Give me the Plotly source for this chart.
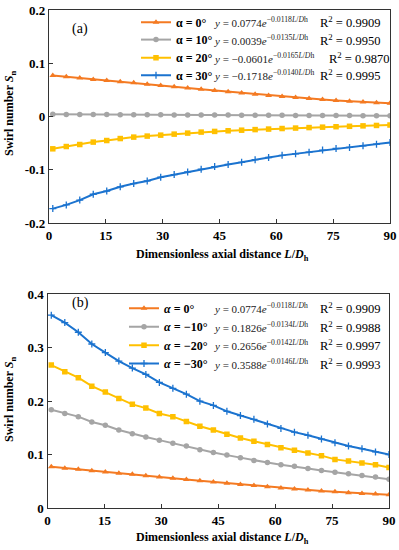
import plotly.graph_objects as go

# ---------------- data ----------------
x_ld = [1, 4.56, 8.12, 11.68, 15.24, 18.8, 22.36, 25.92, 29.48, 33.04, 36.6, 40.16, 43.72,
        47.28, 50.84, 54.4, 57.96, 61.52, 65.08, 68.64, 72.2, 75.76, 79.32, 82.88, 86.44, 90]

a0 = [0.0770, 0.0745, 0.0724, 0.0697, 0.0676, 0.0652, 0.0632, 0.0604, 0.0582, 0.0558, 0.0533, 0.0510, 0.0488,
      0.0463, 0.0442, 0.0420, 0.0396, 0.0375, 0.0355, 0.0336, 0.0318, 0.0302, 0.0287, 0.0273, 0.0260, 0.0248]
a10 = [0.0040, 0.0039, 0.0038, 0.0037, 0.0036, 0.0034, 0.0033, 0.0032, 0.0031, 0.0030, 0.0029, 0.0028, 0.0027,
       0.0026, 0.0025, 0.0024, 0.0023, 0.0022, 0.0021, 0.0020, 0.0019, 0.0018, 0.0017, 0.0016, 0.0015, 0.0014]
a20 = [-0.0607, -0.0564, -0.0526, -0.0481, -0.0451, -0.0414, -0.0387, -0.0368, -0.0350, -0.0331, -0.0312, -0.0293, -0.0280,
       -0.0268, -0.0257, -0.0246, -0.0236, -0.0226, -0.0217, -0.0208, -0.0200, -0.0192, -0.0184, -0.0176, -0.0168, -0.0160]
a30 = [-0.173, -0.166, -0.157, -0.146, -0.140, -0.132, -0.126, -0.121, -0.114, -0.109, -0.104, -0.099, -0.094,
       -0.090, -0.086, -0.081, -0.077, -0.073, -0.070, -0.067, -0.063, -0.060, -0.058, -0.055, -0.052, -0.049]

am10 = [0.184, 0.177, 0.171, 0.161, 0.155, 0.146, 0.139, 0.133, 0.127, 0.121, 0.116, 0.109, 0.104,
        0.099, 0.094, 0.089, 0.085, 0.081, 0.078, 0.074, 0.070, 0.067, 0.064, 0.061, 0.058, 0.054]
am20 = [0.2675, 0.255, 0.244, 0.228, 0.217, 0.205, 0.194, 0.187, 0.177, 0.171, 0.162, 0.153, 0.146,
        0.138, 0.131, 0.125, 0.119, 0.113, 0.108, 0.103, 0.098, 0.091, 0.088, 0.084, 0.081, 0.076]
am30 = [0.361, 0.347, 0.329, 0.307, 0.291, 0.275, 0.262, 0.250, 0.235, 0.224, 0.213, 0.200, 0.192,
        0.181, 0.173, 0.166, 0.157, 0.149, 0.142, 0.136, 0.129, 0.122, 0.116, 0.111, 0.105, 0.100]

names_a = ["α = 0°", "α = 10°", "α = 20°", "α = 30°"]
names_b = ["<i>α</i> = 0°", "<i>α = −</i>10°", "<i>α = −</i>20°", "<i>α = −</i>30°"]
eq_a = ["0.0774", "0.0039", "−0.0601", "−0.1718"]
k_a = ["0.0118", "0.0135", "0.0165", "0.0140"]
r2_a = ["0.9909", "0.9950", "0.9870", "0.9995"]
eq_b = ["0.0774", "0.1826", "0.2656", "0.3588"]
k_b = ["0.0118", "0.0134", "0.0142", "0.0146"]
r2_b = ["0.9909", "0.9988", "0.9997", "0.9993"]

x_ticks = [0, 15, 30, 45, 60, 75, 90]
ya_ticks = [-0.2, -0.1, 0, 0.1, 0.2]
ya_text = ["-0.2", "-0.1", "0", "0.1", "0.2"]
yb_ticks = [0, 0.1, 0.2, 0.3, 0.4]
yb_text = ["0", "0.1", "0.2", "0.3", "0.4"]

# ---------------- styling ----------------
W, H = 399, 550
SERIF = "Liberation Serif"
colors = ["#F47A22", "#A5A5A5", "#FFC000", "#1B73CF"]
symbols = ["triangle-up", "circle", "square", "cross-thin"]
msize = [6, 5.5, 5.5, 5]

def px_x(p):
    return p / W

def px_y(p):
    return 1 - p / H

fig = go.Figure()

series_a = [a0, a10, a20, a30]
series_b = [a0, am10, am20, am30]

leg_y_a = [22.3, 39.6, 57.7, 75.3]
leg_y_b = [308.3, 326.8, 345.3, 363.5]

def marker(i):
    mk = dict(symbol=symbols[i], size=msize[i], color=colors[i])
    if symbols[i] == "cross-thin":
        mk["line"] = dict(color=colors[i], width=1.3)
    return mk

for i, ys in enumerate(series_a):
    fig.add_trace(go.Scatter(x=x_ld, y=ys, xaxis="x", yaxis="y", mode="lines+markers",
                             name=names_a[i], line=dict(color=colors[i], width=2), marker=marker(i),
                             legend="legend" if i == 0 else f"legend{i+1}"))
for i, ys in enumerate(series_b):
    fig.add_trace(go.Scatter(x=x_ld, y=ys, xaxis="x2", yaxis="y2", mode="lines+markers",
                             name=names_b[i], line=dict(color=colors[i], width=2), marker=marker(i),
                             legend=f"legend{i+5}"))

axis_common = dict(showline=True, linecolor="#333333", linewidth=1.3, mirror=True,
                   ticks="inside", ticklen=4, tickcolor="#333333", showgrid=False, zeroline=False,
                   automargin=False,
                   tickfont=dict(family=SERIF, size=13, color="black", weight="bold"))

layout = dict(
    width=W, height=H, margin=dict(l=0, r=0, t=0, b=0, autoexpand=False),
    paper_bgcolor="white", plot_bgcolor="white", showlegend=True,
    xaxis=dict(domain=[px_x(49), px_x(390)], range=[0, 90], tickvals=x_ticks, anchor="y", **axis_common),
    yaxis=dict(domain=[px_y(223), px_y(10)], range=[-0.2, 0.2], tickvals=ya_ticks, ticktext=ya_text,
               anchor="x", **axis_common),
    xaxis2=dict(domain=[px_x(47.5), px_x(389)], range=[0, 90], tickvals=x_ticks, anchor="y2", **axis_common),
    yaxis2=dict(domain=[px_y(508), px_y(294.3)], range=[0, 0.4], tickvals=yb_ticks, ticktext=yb_text,
                anchor="x2", **axis_common),
)

for i in range(8):
    key = "legend" if i == 0 else f"legend{i+1}"
    yy = leg_y_a[i] if i < 4 else leg_y_b[i - 4]
    lx = 136 if i < 4 else 124
    layout[key] = dict(x=px_x(lx), y=px_y(yy), xanchor="left", yanchor="middle",
                       bgcolor="rgba(0,0,0,0)", borderwidth=0,
                       font=dict(family=SERIF, size=12, color="black", weight="bold"))
fig.update_layout(**layout)

ann = []
def eqn(c, k):
    return (f"<i>y</i> = {c}<i>e</i><sup>−{k}<i>L</i>/<i>D</i>h</sup>")

def txt(x, y, text, size, xanchor="center", weight="normal", color="black", angle=0):
    return dict(x=px_x(x), y=px_y(y), xref="paper", yref="paper", xanchor=xanchor, yanchor="middle",
                showarrow=False, text=text, textangle=angle,
                font=dict(family=SERIF, size=size, color=color, weight=weight))

r2x_a = [317.7, 317.7, 326.7, 317.7]
for i in range(4):
    ann.append(txt(212, leg_y_a[i], eqn(eq_a[i], k_a[i]), 11, xanchor="left", color="#222222"))
    ann.append(txt(r2x_a[i], leg_y_a[i], f"R<sup>2</sup> = {r2_a[i]}", 12.5, xanchor="left"))
    ann.append(txt(212, leg_y_b[i], eqn(eq_b[i], k_b[i]), 11, xanchor="left", color="#222222"))
    ann.append(txt(317.7, leg_y_b[i], f"R<sup>2</sup> = {r2_b[i]}", 12.5, xanchor="left"))

ann.append(txt(80, 29.3, "(a)", 14))
ann.append(txt(80, 303.3, "(b)", 14))

xtitle = "Dimensionless axial distance <i>L</i>/<i>D</i><sub>h</sub>"
ytitle = "Swirl number <i>S</i><sub>n</sub>"
for yy in (255, 538):
    ann.append(txt(222, yy, xtitle, 12, weight="bold"))
for yy in (114, 400):
    ann.append(txt(10, yy, ytitle, 12, weight="bold", angle=-90))

fig.update_layout(annotations=ann)
fig.write_html("out.html", config={"displayModeBar": False},
               post_script="document.body.style.margin='0';")
